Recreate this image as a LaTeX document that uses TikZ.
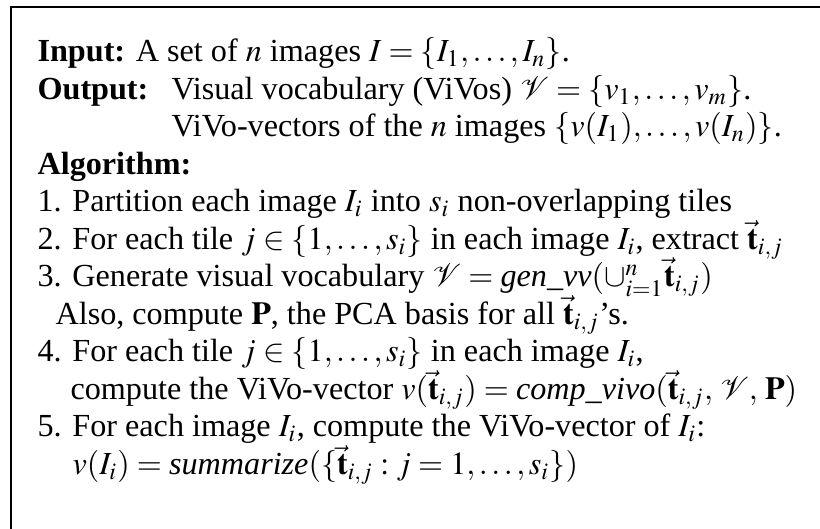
\documentclass[tikz,border=0pt]{standalone}
\usepackage{mathptmx}
\usepackage[no-math]{fontspec}
\setmainfont{Liberation Serif}
\usetikzlibrary{positioning}

\begin{document}
\begin{tikzpicture}[
    x=0.345pt, y=-0.345pt,
    txt/.style={anchor=base west, inner sep=0pt, font=\fontsize{11.1}{13}\selectfont},
    frame/.style={line width=0.9pt}
]
    \useasboundingbox (0,0) rectangle (820,529);

    % frame, cut off at the right and at the bottom
    \coordinate (corner) at (11,7);
    \coordinate (right)  at (820,7);
    \coordinate (bottom) at (11,529);
    \draw[frame] (bottom) -- (corner) -- (right);

    % input / output
    \node[txt] (input)   at (37,62)    {\textbf{Input:} A set of $n$ images $I=\{I_1,\ldots,I_n\}$.};
    \node[txt] (output)  at (37,99.5)  {\textbf{Output:}};
    \node[txt] (vocab)   at (171,99.5) {Visual vocabulary (ViVos) $\mathcal{V}=\{v_1,\ldots,v_m\}$.};
    \node[txt] (vecs)    at (171,137)  {ViVo-vectors of the $n$ images $\{v(I_1),\ldots,v(I_n)\}$.};

    % algorithm steps
    \node[txt] (algo)    at (37,174.5) {\textbf{Algorithm:}};
    \node[txt] (step1)   at (37,212)   {1. Partition each image $I_i$ into $s_i$ non-overlapping tiles};
    \node[txt] (step2)   at (37,249.5) {2. For each tile $j\in\{1,\ldots,s_i\}$ in each image $I_i$, extract $\vec{\mathbf{t}}_{i,j}$};
    \node[txt] (step3)   at (37,287)   {3. Generate visual vocabulary $\mathcal{V}=\textit{gen\_vv}(\cup_{i=1}^{n}\vec{\mathbf{t}}_{i,j})$};
    \node[txt] (step3b)  at (55,324.5) {Also, compute $\mathbf{P}$, the PCA basis for all $\vec{\mathbf{t}}_{i,j}$'s.};
    \node[txt] (step4)   at (37,362)   {4. For each tile $j\in\{1,\ldots,s_i\}$ in each image $I_i$,};
    \node[txt] (step4b)  at (70,399.5) {compute the ViVo-vector $v(\vec{\mathbf{t}}_{i,j})=\textit{comp\_vivo}(\vec{\mathbf{t}}_{i,j},\,\mathcal{V},\,\mathbf{P})$};
    \node[txt] (step5)   at (37,437)   {5. For each image $I_i$, compute the ViVo-vector of $I_i$:};
    \node[txt] (step5b)  at (72,474.5) {$v(I_i)=\textit{summarize}(\{\vec{\mathbf{t}}_{i,j}:j=1,\ldots,s_i\})$};
\end{tikzpicture}
\end{document}
